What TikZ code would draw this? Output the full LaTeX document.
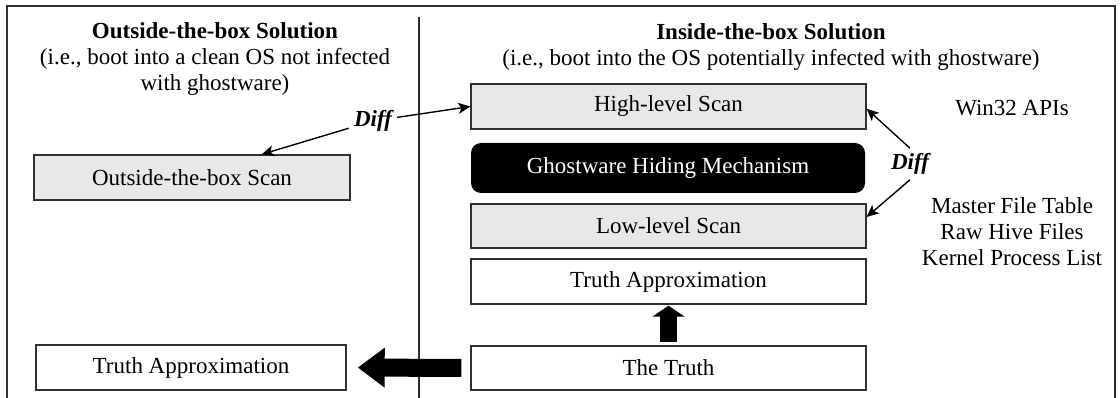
\documentclass[tikz,border=0pt]{standalone}
\usepackage{fontspec}
\setmainfont{Liberation Serif}
\usetikzlibrary{arrows.meta,calc}
\definecolor{scanfill}{HTML}{E8E8E8}
\definecolor{edge}{HTML}{303030}
\begin{document}
\begin{tikzpicture}[x=1pt,y=-1pt,
  every node/.style={font=\fontsize{23}{26}\selectfont, inner sep=0pt},
  plainbox/.style={draw=edge, line width=1.4pt, minimum width=395pt, minimum height=45pt},
  scanbox/.style={plainbox, fill=scanfill},
  hidebox/.style={fill=black, text=white, rounded corners=10pt, minimum width=394pt, minimum height=50pt},
  difflabel/.style={font=\fontsize{23}{26}\selectfont\bfseries\itshape, inner sep=5pt},
  diffarrow/.style={draw=black, line width=1.4pt, -{Stealth[length=12pt,width=11pt,inset=3pt]}},
  bigarrow/.style={draw=black, line width=18pt, -{Triangle[length=27pt,width=38pt]}},
  uparrow/.style={draw=black, line width=17pt, -{Triangle[length=11pt,width=32pt]}}]
\useasboundingbox (0,0) rectangle (1120,398);

% outer frame (open at the bottom) and column divider
\draw[edge, line width=1.4pt] (7,398) -- (7,6) -- (1115,6) -- (1115,398);
\draw[edge, line width=1.2pt] (419,17) -- (419,398);

% column headings
\node[align=center] (titleL) at (215,59)
  {\textbf{Outside-the-box Solution}\\(i.e., boot into a clean OS not infected\\with ghostware)};
\node[align=center] (titleR) at (771,47)
  {\textbf{Inside-the-box Solution}\\(i.e., boot into the OS potentially infected with ghostware)};

% left column
\node[scanbox, minimum width=316pt] (os) at (192,177.5) {Outside-the-box Scan};
\node[plainbox, minimum width=310pt] (lta) at (191,367.5) {Truth Approximation};

% right column
\node[scanbox] (high) at (668.5,106.5) {High-level Scan};
\node[hidebox] (ghost) at (668,168) {Ghostware Hiding Mechanism};
\node[scanbox, minimum height=44pt] (low) at (668.5,226) {Low-level Scan};
\node[plainbox] (ta) at (668.5,281.5) {Truth Approximation};
\node[plainbox, minimum height=44pt] (truth) at (668.5,368) {The Truth};

% data sources
\node (win) at (1012,108) {Win32 APIs};
\node[align=center] (raw) at (1012,232) {Master File Table\\Raw Hive Files\\Kernel Process List};

% comparisons
\node[difflabel] (diffL) at (373,121) {Diff};
\node[difflabel] (diffR) at (910,164) {Diff};
\draw[diffarrow] (diffL) -- ($(os.north west)!0.72!(os.north east)$);
\draw[diffarrow] (diffL) -- (high.west);
\draw[diffarrow] (diffR.north) -- ($(high.north east)!0.55!(high.south east)$);
\draw[diffarrow] (diffR.south) -- ($(low.north east)!0.3!(low.south east)$);

% derivations of the truth approximations
\draw[bigarrow, shorten <=9pt, shorten >=11pt] (truth.west) -- (lta.east);
\draw[uparrow, shorten <=3pt, shorten >=1pt] (truth.north) -- (ta.south);
\end{tikzpicture}
\end{document}
